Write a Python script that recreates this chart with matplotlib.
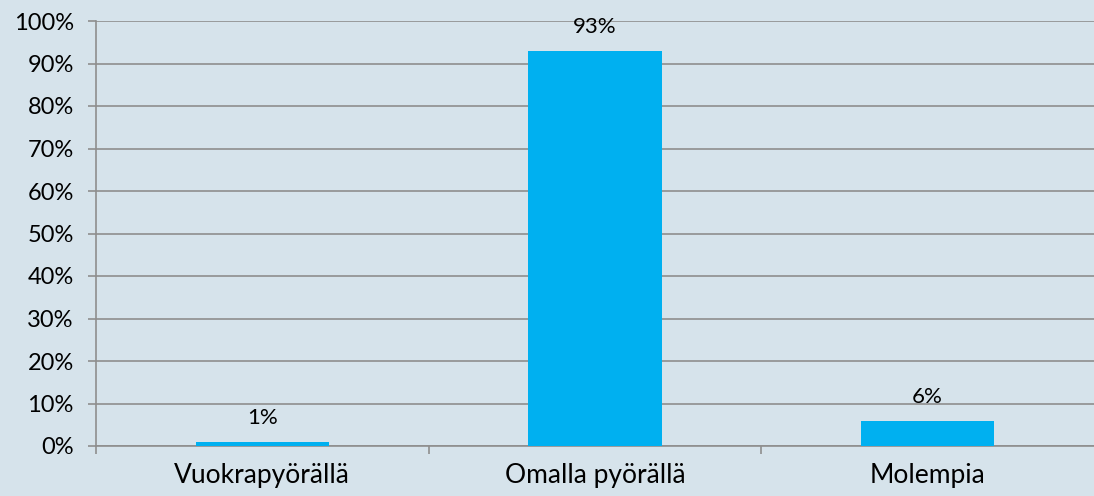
import matplotlib
matplotlib.use("Agg")
import matplotlib.pyplot as plt

# Data
categories = ['Vuokrapyörällä', 'Omalla pyörällä', 'Molempia']
shares = [1, 93, 6]
yticks = list(range(0, 101, 10))

bg = '#D6E3EB'
grid_col = '#8E8E8E'

plt.rcParams['font.family'] = ['Lato', 'DejaVu Sans']

fig = plt.figure(figsize=(10.94, 4.96), dpi=100, facecolor=bg)
ax = fig.add_axes([96 / 1094, 50 / 496, 1 - 96 / 1094, 425 / 496])
ax.set_facecolor(bg)

x = range(len(categories))
bars = ax.bar(x, shares, width=0.4, color='#00B0F0', zorder=3)

for xi, v in zip(x, shares):
    ax.annotate(f'{v}%', (xi, v), xytext=(0, 17), textcoords='offset points',
                ha='center', va='center', fontsize=16, color='black', zorder=4)

ax.set_xlim(-0.5, 2.5)
ax.set_ylim(0, 100)
ax.set_yticks(yticks)
ax.set_yticklabels([f'{t}%' for t in yticks], fontsize=17)
ax.yaxis.grid(True, color=grid_col, linewidth=1.2, zorder=1)

ax.set_xticks(list(x))
ax.set_xticklabels(categories, fontsize=19)
ax.set_xticks([-0.5, 0.5, 1.5], minor=True)
ax.tick_params(axis='x', which='major', length=0, pad=12)
ax.tick_params(axis='x', which='minor', length=6, color=grid_col, width=1.2)
ax.tick_params(axis='y', length=6, color=grid_col, width=1.2, pad=10)

for s in ['top', 'right']:
    ax.spines[s].set_visible(False)
for s in ['left', 'bottom']:
    ax.spines[s].set_color(grid_col)
    ax.spines[s].set_linewidth(1.2)

plt.savefig('out.png', dpi=100, facecolor=bg)
